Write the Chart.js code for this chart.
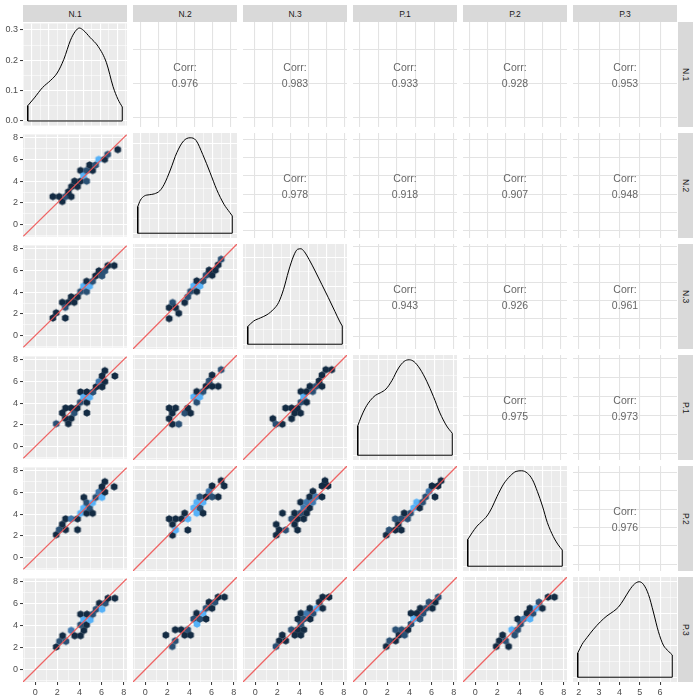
<!DOCTYPE html>
<html>
<head>
<meta charset="utf-8">
<script src="https://cdn.jsdelivr.net/npm/chart.js@4.4.1/dist/chart.umd.min.js"></script>
<style>
  body { margin: 0; background: #fff; }
  #wrap { position: relative; width: 700px; height: 700px; overflow: hidden;
          font-family: "Liberation Sans", Arial, sans-serif; }
  #wrap canvas { position: absolute; }
  .strip { position: absolute; background: #d9d9d9; color: #1a1a1a; font-size: 8.5px;
           display: flex; align-items: center; justify-content: center; }
  .strip.side { writing-mode: vertical-rl; }
  .corr { position: absolute; color: #666666; font-size: 10.5px; line-height: 16px;
          display: flex; flex-direction: column; align-items: center; justify-content: center; }
</style>
</head>
<body>
<div id="wrap"></div>
<script>
// variables (strip labels)
const varNames = ["N.1", "N.2", "N.3", "P.1", "P.2", "P.3"];

// correlations, upper triangle, one array per row
const corrN1 = [0.976, 0.983, 0.933, 0.928, 0.953];
const corrN2 = [0.978, 0.918, 0.907, 0.948];
const corrN3 = [0.943, 0.926, 0.961];
const corrP1 = [0.975, 0.973];
const corrP2 = [0.976];

// density curves on the diagonal: [x, density]
const densN1 = [[1.75,0.050],[2.14,0.076],[2.62,0.110],[3.10,0.134],[3.48,0.158],[3.87,0.203],[4.26,0.266],[4.54,0.295],[4.78,0.306],[5.03,0.298],[5.41,0.275],[5.89,0.245],[6.37,0.192],[6.76,0.113],[7.05,0.071],[7.30,0.046]];
const densN2 = [[1.85,0.089],[2.00,0.111],[2.22,0.125],[2.49,0.129],[2.77,0.132],[3.07,0.142],[3.32,0.164],[3.66,0.212],[4.02,0.270],[4.39,0.309],[4.76,0.320],[5.09,0.311],[5.46,0.264],[5.87,0.203],[6.23,0.147],[6.64,0.097],[6.97,0.069],[7.10,0.058]];
const densN3 = [[1.60,0.061],[1.93,0.080],[2.31,0.091],[2.68,0.102],[3.05,0.121],[3.33,0.144],[3.61,0.190],[3.89,0.253],[4.17,0.305],[4.39,0.328],[4.58,0.330],[4.76,0.321],[5.04,0.293],[5.38,0.253],[5.75,0.207],[6.12,0.161],[6.49,0.113],[6.77,0.077],[6.90,0.063]];
const densP1 = [[1.90,0.092],[2.08,0.120],[2.31,0.149],[2.57,0.172],[2.84,0.188],[3.10,0.196],[3.41,0.208],[3.73,0.235],[4.08,0.274],[4.38,0.295],[4.65,0.300],[4.91,0.294],[5.23,0.271],[5.59,0.232],[5.94,0.185],[6.29,0.133],[6.65,0.092],[6.95,0.069]];
const densP2 = [[1.90,0.084],[2.14,0.105],[2.41,0.126],[2.68,0.141],[2.96,0.158],[3.23,0.184],[3.51,0.219],[3.87,0.258],[4.24,0.284],[4.56,0.298],[4.87,0.300],[5.19,0.292],[5.46,0.272],[5.73,0.235],[6.01,0.189],[6.28,0.137],[6.61,0.093],[6.88,0.067],[7.10,0.051]];
const densP3 = [[1.95,0.076],[2.16,0.103],[2.41,0.125],[2.73,0.151],[3.06,0.174],[3.39,0.193],[3.71,0.207],[3.96,0.221],[4.20,0.243],[4.50,0.274],[4.74,0.293],[4.97,0.300],[5.18,0.292],[5.43,0.260],[5.67,0.205],[5.92,0.143],[6.16,0.101],[6.41,0.082],[6.60,0.070]];

// hexbin cells in the lower panels: [x, y, count]  (name: y-variable _ x-variable)
const hexN2_N1 = [[1.6,2.58,1],[2.17,2.58,1],[2.45,2.13,1],[2.74,2.58,2],[3.0,3.02,1],[3.26,2.58,1],[3.28,3.5,1],[3.83,3.5,1],[3.56,4.0,1],[4.1,4.0,1],[4.1,4.98,1],[4.37,4.5,4],[4.65,4.0,2],[4.65,4.98,2],[4.92,5.49,1],[5.19,4.98,1],[5.46,5.49,2],[5.74,6.0,4],[6.28,6.0,1],[6.55,6.46,2],[7.46,6.9,1]];
const hexN3_N1 = [[1.6,1.62,1],[1.9,2.1,1],[2.72,1.62,1],[2.45,3.06,1],[2.72,2.6,2],[3.0,3.06,1],[3.26,3.57,1],[3.53,3.06,1],[3.83,3.57,1],[4.1,4.05,2],[4.37,4.55,4],[4.65,5.0,1],[4.92,4.55,4],[4.65,4.05,2],[5.19,5.0,2],[5.46,5.5,1],[5.76,5.96,1],[6.03,5.5,2],[6.3,5.96,2],[6.57,6.44,1],[7.14,6.44,1]];
const hexN3_N2 = [[2.17,1.62,1],[2.17,2.6,1],[2.48,3.06,2],[2.75,2.6,1],[3.03,2.1,1],[3.57,3.06,1],[3.85,3.57,2],[4.1,4.05,2],[4.38,4.55,4],[4.66,4.05,1],[4.66,5.0,1],[4.96,4.55,4],[5.23,5.0,2],[5.5,5.5,2],[5.78,5.96,1],[6.05,5.5,1],[6.35,5.96,1],[6.6,6.44,1],[6.87,6.94,2]];
const hexP1_N1 = [[1.9,2.11,2],[2.45,3.1,1],[2.72,2.6,1],[3.0,2.11,1],[3.26,2.6,1],[2.75,3.55,1],[3.26,3.55,1],[3.53,3.1,2],[3.8,3.55,1],[4.07,4.07,2],[4.1,5.03,1],[4.37,4.55,4],[4.67,5.03,1],[4.67,4.07,1],[4.67,3.1,1],[4.92,4.55,4],[5.22,5.03,2],[5.5,5.5,1],[5.76,5.98,3],[6.05,5.5,1],[6.05,6.5,1],[6.3,5.98,1],[6.3,6.99,1],[7.2,6.5,1]];
const hexP1_N2 = [[2.17,3.55,1],[2.17,2.6,1],[2.45,3.1,1],[2.45,2.11,1],[2.75,3.55,1],[3.03,2.11,2],[3.57,3.1,2],[3.85,3.55,1],[4.1,3.1,1],[4.38,4.55,4],[4.66,5.03,1],[4.66,4.07,2],[4.93,4.55,4],[5.23,5.03,2],[5.5,5.5,1],[5.78,5.98,2],[6.05,5.5,1],[6.05,6.5,1],[6.6,5.5,1],[6.87,6.99,2]];
const hexP1_N3 = [[1.6,2.6,1],[1.87,2.11,2],[2.45,2.11,1],[2.75,3.55,1],[3.29,3.55,1],[3.29,2.6,1],[3.56,3.1,1],[3.83,3.55,1],[4.1,3.1,1],[4.13,4.07,2],[4.38,4.55,4],[4.13,5.03,1],[4.65,4.07,1],[4.65,5.03,1],[4.95,5.5,1],[5.2,5.03,2],[5.5,5.5,2],[5.77,5.98,1],[6.04,5.5,1],[6.04,6.5,1],[6.38,6.99,1],[6.92,6.99,1]];
const hexP2_N1 = [[1.9,2.11,1],[2.17,2.57,2],[2.45,3.07,1],[2.75,2.57,1],[2.75,3.57,1],[3.26,3.57,3],[3.83,2.57,1],[3.83,3.57,1],[4.1,4.08,4],[4.37,4.55,4],[4.4,5.54,1],[4.65,5.06,2],[4.65,4.08,1],[4.92,4.55,2],[5.19,4.08,1],[5.19,5.06,4],[5.47,5.54,2],[5.75,6.03,3],[6.03,5.54,4],[6.3,6.03,1],[6.03,6.52,1],[6.3,6.99,1],[7.14,6.52,1]];
const hexP2_N2 = [[2.17,3.57,1],[2.47,3.07,1],[2.47,2.11,1],[2.75,2.57,4],[2.75,3.57,1],[3.57,4.08,1],[3.3,3.57,1],[3.85,3.57,4],[3.85,2.57,1],[4.38,4.55,4],[4.66,5.06,4],[4.66,4.08,4],[4.93,5.54,2],[4.96,4.55,2],[5.23,5.06,4],[5.23,4.08,1],[5.5,5.54,1],[5.78,6.03,3],[6.05,5.54,2],[6.05,6.52,1],[6.6,5.54,1],[6.87,6.99,1],[7.14,6.52,1]];
const hexP2_N3 = [[1.9,2.11,1],[1.9,3.07,1],[2.17,2.57,1],[2.75,2.57,2],[2.47,4.08,1],[3.29,3.57,2],[3.56,3.07,1],[3.56,4.08,1],[3.83,3.57,1],[3.83,2.57,1],[4.1,4.08,2],[4.1,5.06,1],[4.38,3.57,1],[4.38,4.55,3],[4.65,4.08,1],[4.65,5.06,3],[4.92,4.55,1],[4.92,5.54,1],[5.22,6.03,1],[5.2,5.06,3],[5.5,5.54,3],[6.04,5.54,1],[6.04,6.52,1],[6.31,6.99,1],[6.58,6.52,1]];
const hexP2_P1 = [[1.9,2.11,1],[2.17,2.57,2],[2.72,2.57,1],[2.72,3.57,2],[2.99,3.07,1],[3.27,2.57,1],[3.26,3.57,2],[3.53,4.08,1],[3.83,3.57,2],[4.1,4.08,2],[4.38,4.55,4],[4.65,5.06,4],[4.92,4.55,1],[5.19,5.06,2],[5.46,5.54,2],[5.77,6.03,3],[6.04,6.52,1],[6.31,5.54,1],[6.58,6.52,1],[6.86,6.99,1]];
const hexP3_N1 = [[1.9,2.08,1],[2.2,2.59,2],[2.48,3.1,1],[2.78,2.59,2],[3.26,3.58,3],[3.57,3.1,1],[4.1,3.1,1],[4.1,5.05,1],[4.4,3.58,1],[4.65,4.09,1],[4.1,4.09,2],[4.37,4.54,4],[4.68,5.05,1],[4.98,4.54,4],[5.2,5.05,2],[5.5,5.5,2],[5.8,6.05,1],[6.04,5.5,4],[6.34,6.05,2],[6.58,6.5,1],[7.2,6.5,1]];
const hexP3_N2 = [[1.87,3.1,1],[2.45,2.08,2],[2.72,2.59,2],[2.72,3.58,1],[3.26,3.58,1],[3.57,3.1,1],[3.84,3.58,2],[4.1,3.1,1],[4.38,4.54,2],[4.65,5.05,1],[4.68,4.09,4],[4.95,4.54,2],[5.23,5.05,4],[5.5,4.54,1],[5.5,5.5,2],[5.77,6.05,1],[6.04,5.5,1],[6.31,6.05,2],[6.59,6.5,1],[7.16,6.5,1]];
const hexP3_N3 = [[1.88,2.08,2],[2.18,2.59,1],[2.45,3.1,1],[2.76,2.59,1],[3.27,3.58,2],[3.58,3.1,1],[3.85,3.58,1],[4.12,3.1,1],[4.4,3.58,1],[3.85,4.54,1],[4.12,5.05,1],[4.12,4.09,2],[4.4,4.54,2],[4.67,5.05,3],[4.94,5.5,1],[4.97,4.54,1],[5.24,5.05,2],[5.55,5.5,4],[5.79,6.05,1],[6.1,5.5,1],[6.1,6.5,1],[6.67,6.5,1]];
const hexP3_P1 = [[1.9,2.08,1],[2.2,2.59,2],[2.75,3.58,2],[2.75,2.59,1],[3.05,3.1,1],[3.29,3.58,2],[3.56,3.1,2],[3.87,3.58,1],[4.14,4.09,2],[4.4,4.54,4],[4.14,5.05,1],[4.68,5.05,1],[4.95,4.54,2],[4.98,5.5,1],[5.23,5.05,2],[5.5,5.5,2],[5.77,6.05,2],[6.07,5.5,1],[6.34,6.05,1],[6.6,6.5,2]];
const hexP3_P2 = [[1.9,2.08,1],[2.18,2.59,1],[2.48,3.1,1],[2.75,2.59,2],[3.02,2.08,1],[3.3,3.58,4],[3.57,3.1,2],[3.84,3.58,2],[3.84,4.54,1],[4.1,4.09,2],[4.38,4.54,3],[4.68,5.05,1],[4.95,4.54,4],[4.95,5.5,1],[5.23,5.05,2],[5.5,5.5,4],[5.77,6.05,2],[6.07,5.5,1],[6.59,6.5,1],[7.16,6.5,1]];

// axes
const scatterRange = [-1.1, 8.3];
const scatterGrid = [-1, 0, 1, 2, 3, 4, 5, 6, 7, 8];
const scatterBreaks = [0, 2, 4, 6, 8];
const corrStep = [2, 1, 1, 1, 1, 1];   // break spacing used in the Corr panels, per variable
const ablineData = [{ x: -1.1, y: -1.1 }, { x: 8.3, y: 8.3 }];  // y = x across the panel
const hexColors = ["#132B43", "#2A5074", "#3E78AE", "#56B1F7"];

const densByVar = [densN1, densN2, densN3, densP1, densP2, densP3];
const corrRows = [corrN1, corrN2, corrN3, corrP1, corrP2];
const hexByPanel = {
  "10": hexN2_N1, "20": hexN3_N1, "21": hexN3_N2,
  "30": hexP1_N1, "31": hexP1_N2, "32": hexP1_N3,
  "40": hexP2_N1, "41": hexP2_N2, "42": hexP2_N3, "43": hexP2_P1,
  "50": hexP3_N1, "51": hexP3_N2, "52": hexP3_N3, "53": hexP3_P1, "54": hexP3_P2
};

// layout of the panel grid (pixels)
const wrap = document.getElementById("wrap");
const PW = 104, PH = 105, M = 6, AXW = 23, AXH = 18;
const colX = c => 23 + 110 * c;
const rowY = r => 22 + 111 * r;
const FONT = "'Liberation Sans', Arial, sans-serif";

// hexagon sprites, one per fill colour
const hexSprites = hexColors.map(col => {
  const cv = document.createElement("canvas");
  cv.width = 10; cv.height = 10;
  const g = cv.getContext("2d");
  g.fillStyle = col;
  g.beginPath();
  for (let i = 0; i < 6; i++) {
    const a = Math.PI / 2 + i * Math.PI / 3;
    const px = 5 + 3.85 * Math.cos(a), py = 5 + 3.85 * Math.sin(a);
    if (i === 0) g.moveTo(px, py); else g.lineTo(px, py);
  }
  g.closePath();
  g.fill();
  return cv;
});

const panelBg = {
  id: "panelBg",
  beforeDraw(chart, args, opts) {
    const a = chart.chartArea, g = chart.ctx;
    g.save();
    g.fillStyle = opts.color;
    g.fillRect(a.left, a.top, a.right - a.left, a.bottom - a.top);
    g.restore();
  }
};

function stepsIn(lo, hi, step) {
  const out = [];
  for (let v = Math.ceil(lo / step - 1e-9) * step; v <= hi + 1e-9; v += step) out.push(Math.round(v * 1000) / 1000);
  return out;
}

function expand(d) {
  const lo = d[0][0], hi = d[d.length - 1][0], e = 0.05 * (hi - lo);
  return [lo - e, hi + e];
}

// one linear axis; size = fixed thickness of the label area (0 = hidden)
function axis(range, gridVals, isMajor, size, label, gridColor, minorWidth) {
  const show = size > 0;
  return {
    type: "linear", bounds: "data", min: range[0], max: range[1],
    afterBuildTicks: s => { s.ticks = gridVals.map(v => ({ value: v })); },
    afterFit: s => { if (s.isHorizontal()) s.height = size; else s.width = size; },
    border: { display: false },
    grid: {
      color: gridColor,
      lineWidth: ctx => isMajor(ctx.tick.value) ? 1.1 : minorWidth,
      drawTicks: show,
      tickLength: 3,
      tickWidth: 1,
      tickColor: ctx => isMajor(ctx.tick.value) ? "#333333" : "rgba(0,0,0,0)"
    },
    ticks: {
      display: show, autoSkip: false, maxRotation: 0, minRotation: 0, padding: 2,
      color: "#4d4d4d", font: { family: FONT, size: 9 },
      callback: v => isMajor(v) ? label(v) : ""
    }
  };
}

function makeCanvas(r, c) {
  const w = PW + 2 * M + (c === 0 ? AXW : 0);
  const h = PH + 2 * M + (r === 5 ? AXH : 0);
  const cv = document.createElement("canvas");
  cv.width = w; cv.height = h;
  cv.style.left = (colX(c) - M - (c === 0 ? AXW : 0)) + "px";
  cv.style.top = (rowY(r) - M) + "px";
  cv.style.width = w + "px"; cv.style.height = h + "px";
  wrap.appendChild(cv);
  return cv;
}

function baseOptions(bg, xScale, yScale) {
  return {
    responsive: false, animation: false, events: [],
    layout: { padding: M },
    plugins: { legend: { display: false }, tooltip: { enabled: false }, panelBg: { color: bg } },
    scales: { x: xScale, y: yScale }
  };
}

const isInt = v => Math.abs(v - Math.round(v)) < 1e-6;
const isTenth = v => Math.abs(v * 10 - Math.round(v * 10)) < 1e-6;

for (let r = 0; r < 6; r++) {
  for (let c = 0; c < 6; c++) {
    const xSize = r === 5 ? AXH : 0, ySize = c === 0 ? AXW : 0;
    const cv = makeCanvas(r, c);

    if (r > c) {
      // hexbin scatter with the y = x line on top
      const hexes = hexByPanel["" + r + c].slice().sort((a, b) => a[0] - b[0]);
      const sx = axis(scatterRange, scatterGrid, v => scatterBreaks.includes(v), xSize, v => String(v), "#ffffff", 0.55);
      const sy = axis(scatterRange, scatterGrid, v => scatterBreaks.includes(v), ySize, v => String(v), "#ffffff", 0.55);
      new Chart(cv, {
        type: "scatter",
        data: { datasets: [
          { data: ablineData, showLine: true, order: 0, borderColor: "rgba(238,85,85,0.9)", borderWidth: 1.25,
            pointRadius: 0, backgroundColor: "rgba(0,0,0,0)" },
          { data: hexes.map(h => ({ x: h[0], y: h[1] })), showLine: false, order: 1,
            pointStyle: hexes.map(h => hexSprites[h[2] - 1]), pointRadius: 4,
            borderColor: "rgba(0,0,0,0)", backgroundColor: "rgba(0,0,0,0)" }
        ] },
        options: baseOptions("#ebebeb", sx, sy),
        plugins: [panelBg]
      });
    } else if (r === c) {
      // density of the variable
      const d = densByVar[c];
      const xr = expand(d);
      const peak = Math.max(...d.map(p => p[1]));
      const yr = [-0.05 * peak, 1.05 * peak];
      const sx = axis(xr, stepsIn(xr[0], xr[1], 0.5), isInt, xSize, v => String(v), "#ffffff", 0.55);
      const sy = axis(yr, stepsIn(yr[0], yr[1], 0.05), isTenth, ySize, v => v.toFixed(1), "#ffffff", 0.55);
      const first = d[0], last = d[d.length - 1];
      new Chart(cv, {
        type: "scatter",
        data: { datasets: [
          { data: d.map(p => ({ x: p[0], y: p[1] })), showLine: true, borderColor: "#000", borderWidth: 1,
            pointRadius: 0, cubicInterpolationMode: "monotone" },
          { data: [{ x: first[0], y: first[1] }, { x: first[0], y: 0 }, { x: last[0], y: 0 }, { x: last[0], y: last[1] }],
            showLine: true, borderColor: "#000", borderWidth: 1, pointRadius: 0, tension: 0, borderJoinStyle: "miter" }
        ] },
        options: baseOptions("#ebebeb", sx, sy),
        plugins: [panelBg]
      });
    } else {
      // correlation text panel
      const xr = expand(densByVar[c]), yr = expand(densByVar[r]);
      const sx = axis(xr, stepsIn(xr[0], xr[1], corrStep[c]), () => true, 0, v => "", "#e3e3e3", 1);
      const sy = axis(yr, stepsIn(yr[0], yr[1], corrStep[r]), () => true, 0, v => "", "#e3e3e3", 1);
      new Chart(cv, {
        type: "scatter",
        data: { datasets: [] },
        options: baseOptions("#ffffff", sx, sy),
        plugins: [panelBg]
      });
      const t = document.createElement("div");
      t.className = "corr";
      t.style.left = colX(c) + "px"; t.style.top = rowY(r) + "px";
      t.style.width = PW + "px"; t.style.height = PH + "px";
      t.innerHTML = "<span>Corr:</span><span>" + corrRows[r][c - r - 1].toFixed(3) + "</span>";
      wrap.appendChild(t);
    }
  }
}

// facet strips
varNames.forEach((name, i) => {
  const top = document.createElement("div");
  top.className = "strip";
  top.style.left = colX(i) + "px"; top.style.top = "5px";
  top.style.width = PW + "px"; top.style.height = "17px";
  top.textContent = name;
  wrap.appendChild(top);

  const side = document.createElement("div");
  side.className = "strip side";
  side.style.left = "678px"; side.style.top = rowY(i) + "px";
  side.style.width = "15px"; side.style.height = PH + "px";
  side.textContent = name;
  wrap.appendChild(side);
});
</script>
</body>
</html>
